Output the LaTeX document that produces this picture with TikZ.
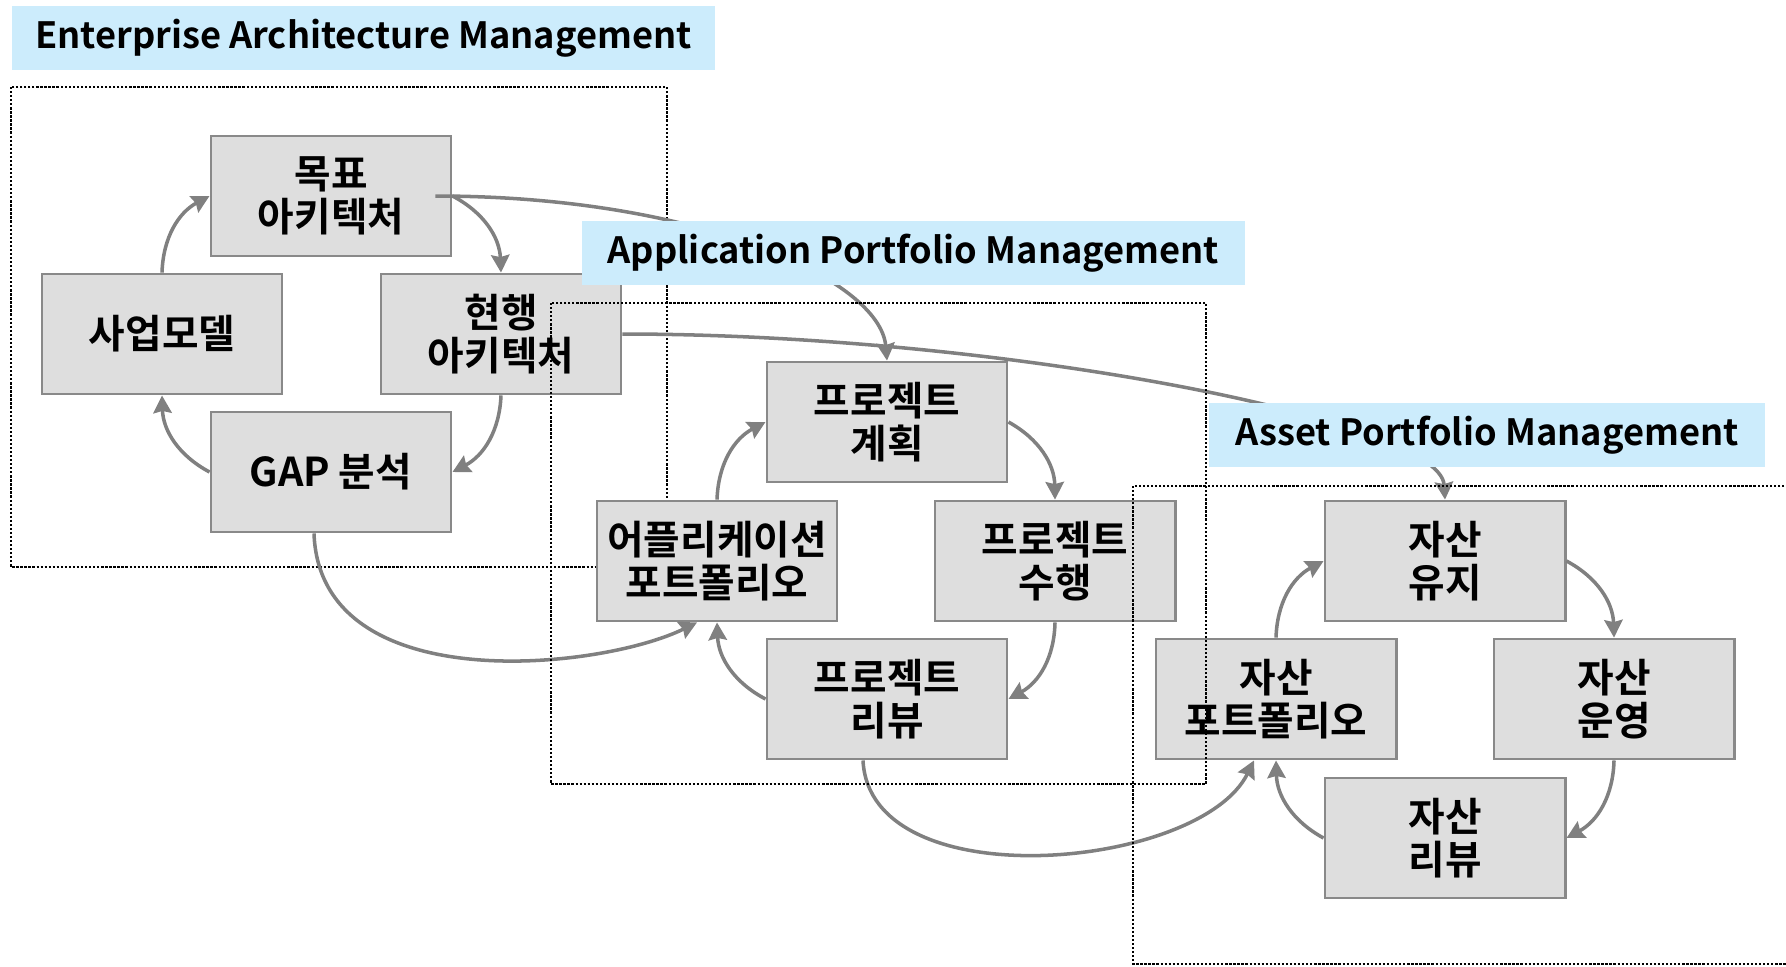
\documentclass[tikz,border=0pt]{standalone}
\usepackage{fontspec}
\setmainfont{Noto Sans CJK KR}[BoldFont={Noto Sans CJK KR Bold}]
\usetikzlibrary{arrows.meta}
\definecolor{boxgray}{RGB}{222,222,222}
\definecolor{edgegray}{RGB}{137,137,137}
\definecolor{flowgray}{RGB}{128,128,128}
\definecolor{labelblue}{RGB}{204,236,252}

\begin{document}
\begin{tikzpicture}[x=0.01cm, y=-0.01cm,
    stagebox/.style={draw=edgegray, line width=0.8pt, fill=boxgray, minimum width=2.4cm, minimum height=1.2cm,
        align=center, inner sep=0pt, font=\bfseries\fontsize{11.3}{12.4}\selectfont},
    areabox/.style={draw=black, line width=0.75pt, dash pattern=on 0.65pt off 0.5pt},
    arealabel/.style={fill=labelblue, anchor=north west, minimum height=0.64cm, inner sep=0pt,
        font=\bfseries\fontsize{10.3}{12}\selectfont},
    flow/.style={draw=flowgray, line width=1pt, -{Stealth[length=5pt,width=5.2pt,inset=0.6pt]}}]
    \useasboundingbox (0,0) rectangle (1786,966);
    \draw [areabox] (11,87) rectangle (667,567);

    \node (mokpyo) [stagebox] at (331,196) {목표\\아키텍처};
    \node (saeop) [stagebox] at (162,334) {사업모델};
    \node (hyeon) [stagebox] at (501,334) {현행\\아키텍처};
    \node (gap) [stagebox] at (331,472) {GAP 분석};
    \node (plan) [stagebox] at (887,422) {프로젝트\\계획};
    \node (appport) [stagebox] at (717,561) {어플리케이션\\포트폴리오};
    \node (exec) [stagebox] at (1055,561) {프로젝트\\수행};
    \node (review) [stagebox] at (887,699) {프로젝트\\리뷰};
    \node (keep) [stagebox] at (1445,561) {자산\\유지};
    \node (assetport) [stagebox] at (1276,699) {자산\\포트폴리오};
    \node (oper) [stagebox] at (1614,699) {자산\\운영};
    \node (areview) [stagebox] at (1445,838) {자산\\리뷰};

    \draw [flow] (saeop.north) to [bend left=30] (mokpyo.west);
    \draw [flow] (mokpyo.east) to [bend left=30] (hyeon.north);
    \draw [flow] (hyeon.south) to [bend left=30] (gap.east);
    \draw [flow] (gap.west) to [bend left=30] (saeop.south);
    \draw [flow] (appport.north) to [bend left=30] (plan.west);
    \draw [flow] (plan.east) to [bend left=30] (exec.north);
    \draw [flow] (exec.south) to [bend left=30] (review.east);
    \draw [flow] (review.west) to [bend left=30] (appport.south);
    \draw [flow] (assetport.north) to [bend left=30] (keep.west);
    \draw [flow] (keep.east) to [bend left=30] (oper.north);
    \draw [flow] (oper.south) to [bend left=30] (areview.east);
    \draw [flow] (areview.west) to [bend left=30] (assetport.south);

    \draw [flow] ([xshift=-0.17cm]mokpyo.east) .. controls (700,196) and (880,280) .. (plan.north);
    \draw [flow] (hyeon.east) .. controls (1000,334) and (1440,420) .. (keep.north);
    \draw [flow] ([xshift=-0.17cm]gap.south) .. controls (320,700) and (600,670) .. ([xshift=-0.2cm]appport.south);
    \draw [flow] ([xshift=-0.24cm]review.south) .. controls (870,900) and (1200,870) .. ([xshift=-0.22cm]assetport.south);

    \draw [areabox] (551,303) rectangle (1206,784);
    \draw [areabox] (1133,486) rectangle (1850,964);

    \node (ealabel) [arealabel, minimum width=7.03cm] at (11,5) {Enterprise Architecture Management};
    \node (aplabel) [arealabel, minimum width=6.63cm] at (581,220) {Application Portfolio Management};
    \node (aslabel) [arealabel, minimum width=5.56cm] at (1208,402) {Asset Portfolio Management};
\end{tikzpicture}
\end{document}
